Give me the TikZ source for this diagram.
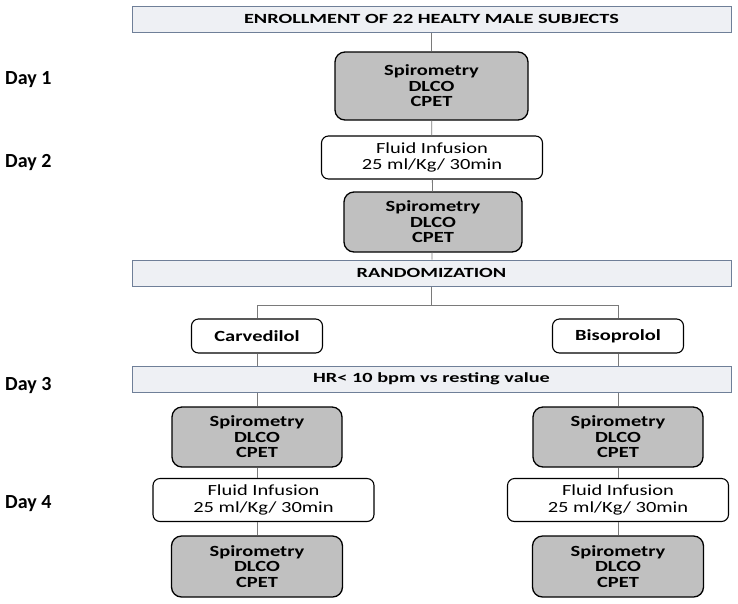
\documentclass[tikz,border=0pt]{standalone}
\usepackage{fontspec}
\setmainfont{Carlito}
\newfontfamily\boxfont[FakeStretch=1.32]{Carlito}
\newfontfamily\bannerfont[FakeStretch=1.45]{Carlito}
\definecolor{bannerfill}{HTML}{EEF0F4}
\definecolor{bannerline}{HTML}{6F7F98}
\definecolor{testgray}{HTML}{C0C0C0}
\definecolor{linkgray}{HTML}{7A7A7A}
\newcommand{\lft}{257}
\newcommand{\rgt}{618}

\begin{document}
\begin{tikzpicture}[x=1pt, y=-1pt,
    banner/.style={draw=bannerline, fill=bannerfill, line width=1pt, minimum width=599pt, minimum height=26pt, inner sep=0pt, font=\bannerfont\bfseries\fontsize{14}{16}\selectfont},
    test/.style={draw=black, fill=testgray, rounded corners=10pt, line width=1.3pt, align=center, inner sep=0pt, font=\boxfont\bfseries\fontsize{15.5}{15.5}\selectfont},
    fluid/.style={draw=black, fill=white, rounded corners=7pt, line width=1.1pt, align=center, inner sep=0pt, minimum width=221pt, minimum height=43pt, font=\boxfont\fontsize{15.5}{16.7}\selectfont},
    drug/.style={draw=black, fill=white, rounded corners=7pt, line width=1.1pt, inner sep=0pt, minimum width=131pt, minimum height=34pt, font=\boxfont\bfseries\fontsize{15.5}{16}\selectfont},
    day/.style={anchor=west, inner sep=0pt, font=\bfseries\fontsize{20}{22}\selectfont},
    link/.style={draw=linkgray, line width=0.8pt}]
    \useasboundingbox (0,0) rectangle (738,603);

    % Days
    \node[day] (day-1) at (5,80) {Day 1};
    \node[day] (day-2) at (5,163) {Day 2};
    \node[day] (day-3) at (5,386) {Day 3};
    \node[day] (day-4) at (5,504) {Day 4};

    % Common part
    \node[banner] (enroll) at (431.5,19) {ENROLLMENT OF 22 HEALTY MALE SUBJECTS};
    \node[test, minimum width=193pt, minimum height=68pt] (test-1) at (431.5,86) {Spirometry\\DLCO\\CPET};
    \node[fluid] (fluid-1) at (432,157.5) {Fluid Infusion\\25 ml/Kg/ 30min};
    \node[test, minimum width=178pt, minimum height=60pt] (test-2) at (433,222) {Spirometry\\DLCO\\CPET};
    \node[banner] (random) at (431.5,273) {RANDOMIZATION};

    % Two arms
    \node[drug] (carv) at (\lft,336) {Carvedilol};
    \node[drug] (biso) at (\rgt,336) {Bisoprolol};
    \node[banner] (hr) at (431.5,379) {HR< 10 bpm vs resting value};

    \node[test, minimum width=170pt, minimum height=60pt] (test-l-1) at (\lft,437) {Spirometry\\DLCO\\CPET};
    \node[test, minimum width=170pt, minimum height=60pt] (test-r-1) at (\rgt,437) {Spirometry\\DLCO\\CPET};
    \node[fluid] (fluid-l) at (263.5,500) {Fluid Infusion\\25 ml/Kg/ 30min};
    \node[fluid] (fluid-r) at (\rgt,500) {Fluid Infusion\\25 ml/Kg/ 30min};
    \node[test, minimum width=171pt, minimum height=61pt] (test-l-2) at (\lft,566.5) {Spirometry\\DLCO\\CPET};
    \node[test, minimum width=171pt, minimum height=61pt] (test-r-2) at (\rgt,566.5) {Spirometry\\DLCO\\CPET};

    % Links
    \draw[link] (enroll) -- (test-1);
    \draw[link] (test-1) -- (fluid-1);
    \draw[link] (fluid-1) -- (test-2);
    \draw[link] (test-2) -- (random);
    \coordinate (split) at (431.5,305);
    \draw[link] (random.south) -- (split);
    \draw[link] (split) -| (carv.north);
    \draw[link] (split) -| (biso.north);
    \draw[link] (carv.south) -- (carv.south |- hr.north);
    \draw[link] (biso.south) -- (biso.south |- hr.north);
    \draw[link] (test-l-1.north |- hr.south) -- (test-l-1.north);
    \draw[link] (test-r-1.north |- hr.south) -- (test-r-1.north);
    \draw[link] (test-l-1.south) -- (test-l-1.south |- fluid-l.north);
    \draw[link] (test-r-1) -- (fluid-r);
    \draw[link] (test-l-2.north |- fluid-l.south) -- (test-l-2.north);
    \draw[link] (fluid-r) -- (test-r-2);

\end{tikzpicture}
\end{document}
